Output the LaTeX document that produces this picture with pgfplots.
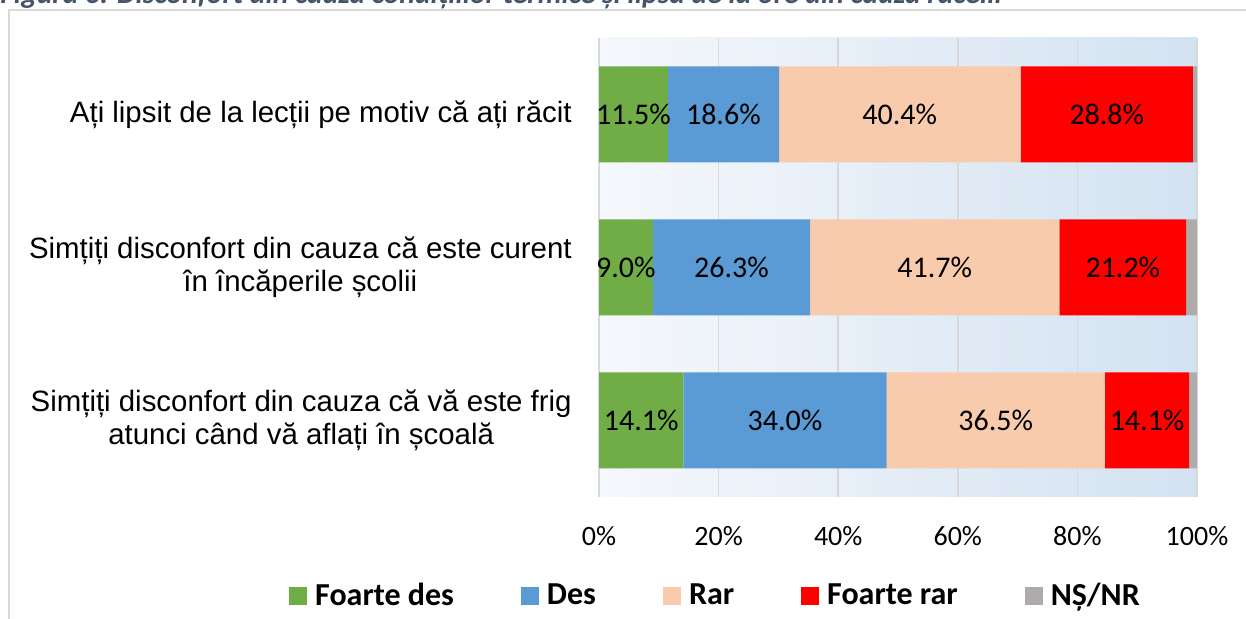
\documentclass[border=0pt]{standalone}
\usepackage{pgfplots}
\usepackage{pgfplotstable}
\pgfplotsset{compat=1.18}
\usepackage{fontspec}
\setmainfont{Liberation Sans}
\newfontfamily\carlito{Carlito}

\definecolor{cGreen}{HTML}{70AD47}
\definecolor{cBlue}{HTML}{5B9BD5}
\definecolor{cPeach}{HTML}{F8CBAD}
\definecolor{cRed}{HTML}{FF0000}
\definecolor{cGray}{HTML}{AFABAB}
\definecolor{bgLeft}{HTML}{F5F8FC}
\definecolor{bgRight}{HTML}{D3E2F1}
\definecolor{gridGray}{HTML}{D9D9D9}
\definecolor{titleCol}{HTML}{44546A}

% shares per row (y=3 top row, y=1 bottom row)
\pgfplotstableread{
y  fdes  des   rar   frar  nsnr
3  11.5  18.6  40.4  28.8  0.7
2  9.0   26.3  41.7  21.2  1.8
1  14.1  34.0  36.5  14.1  1.3
}\shares

% label positions (segment middles) and values
\pgfplotstableread{
x      y  v
5.75   3  11.5
20.8   3  18.6
50.3   3  40.4
84.9   3  28.8
4.5    2  9.0
22.15  2  26.3
56.15  2  41.7
87.6   2  21.2
7.05   1  14.1
31.1   1  34.0
66.35  1  36.5
91.65  1  14.1
}\labels

\pgfplotsset{
  base/.style={
    scale only axis, width=299pt, height=229.5pt,
    at={(299.5pt,61pt)}, anchor=south west,
    xmin=0, xmax=100, ymin=0.5, ymax=3.5,
    axis line style={draw=none}, major tick length=0,
  },
}

\begin{document}
\begin{tikzpicture}
\useasboundingbox (0,0) rectangle (623pt,309.5pt);
\fill[white] (0,0) rectangle (623pt,309.5pt);
\draw[gridGray, line width=0.8pt] (4.5pt,-2pt) -- (4.5pt,304.5pt) -- (640pt,304.5pt);
% title, cut by the top edge as in the source
\node[anchor=base west, inner sep=0pt, text=titleCol,
  font=\carlito\bfseries\itshape\fontsize{14.8}{17}\selectfont] at (0pt,307.8pt)
  {Figura 6. Disconfort din cauza condițiilor termice și lipsa de la ore din cauza răcelii};

\begin{axis}[base,
  xbar stacked, bar width=48pt,
  axis background/.style={shade, left color=bgLeft, right color=bgRight},
  xmajorgrids, grid style={gridGray, line width=0.8pt},
  xtick={0,20,40,60,80,100},
  xticklabels={0\%,20\%,40\%,60\%,80\%,100\%},
  xticklabel style={font=\carlito\fontsize{14}{16}\selectfont, inner sep=0pt, yshift=-14.5pt},
  ytick={1,2,3},
  yticklabels={Simțiți disconfort din cauza că vă este frig\\atunci când vă aflați în școală,
               Simțiți disconfort din cauza că este curent\\în încăperile școlii,
               Ați lipsit de la lecții pe motiv că ați răcit},
  yticklabel style={align=center, inner sep=0pt, xshift=-13.5pt,
    font=\fontsize{14.7}{16.5}\selectfont},
  legend columns=5,
  legend image code/.code={\fill[#1] (0pt,-4.5pt) rectangle (9pt,4.5pt);},
  legend style={at={(0.1965,-0.2157)}, anchor=center, draw=none, fill=none,
    font=\carlito\bfseries\fontsize{16}{18}\selectfont,
    /tikz/every odd column/.append style={column sep=2pt},
    /tikz/every even column/.append style={column sep=31.5pt}},
]
\addplot[fill=cGreen, draw=none] table[x=fdes, y=y] {\shares};
\addplot[fill=cBlue, draw=none] table[x=des, y=y] {\shares};
\addplot[fill=cPeach, draw=none] table[x=rar, y=y] {\shares};
\addplot[fill=cRed, draw=none] table[x=frar, y=y] {\shares};
\addplot[fill=cGray, draw=none] table[x=nsnr, y=y] {\shares};
\legend{Foarte des, Des, Rar, Foarte rar, NȘ/NR}
\end{axis}

\begin{axis}[base, hide axis]
\addplot[draw=none, mark=none, nodes near coords, point meta=\thisrow{v},
  nodes near coords={\pgfmathprintnumber[assume math mode=true, fixed, fixed zerofill, precision=1]{\pgfplotspointmeta}\%},
  nodes near coords style={anchor=center, inner sep=0pt, font=\carlito\fontsize{15}{17}\selectfont}]
  table[x=x, y=y] {\labels};
\end{axis}
\end{tikzpicture}
\end{document}
